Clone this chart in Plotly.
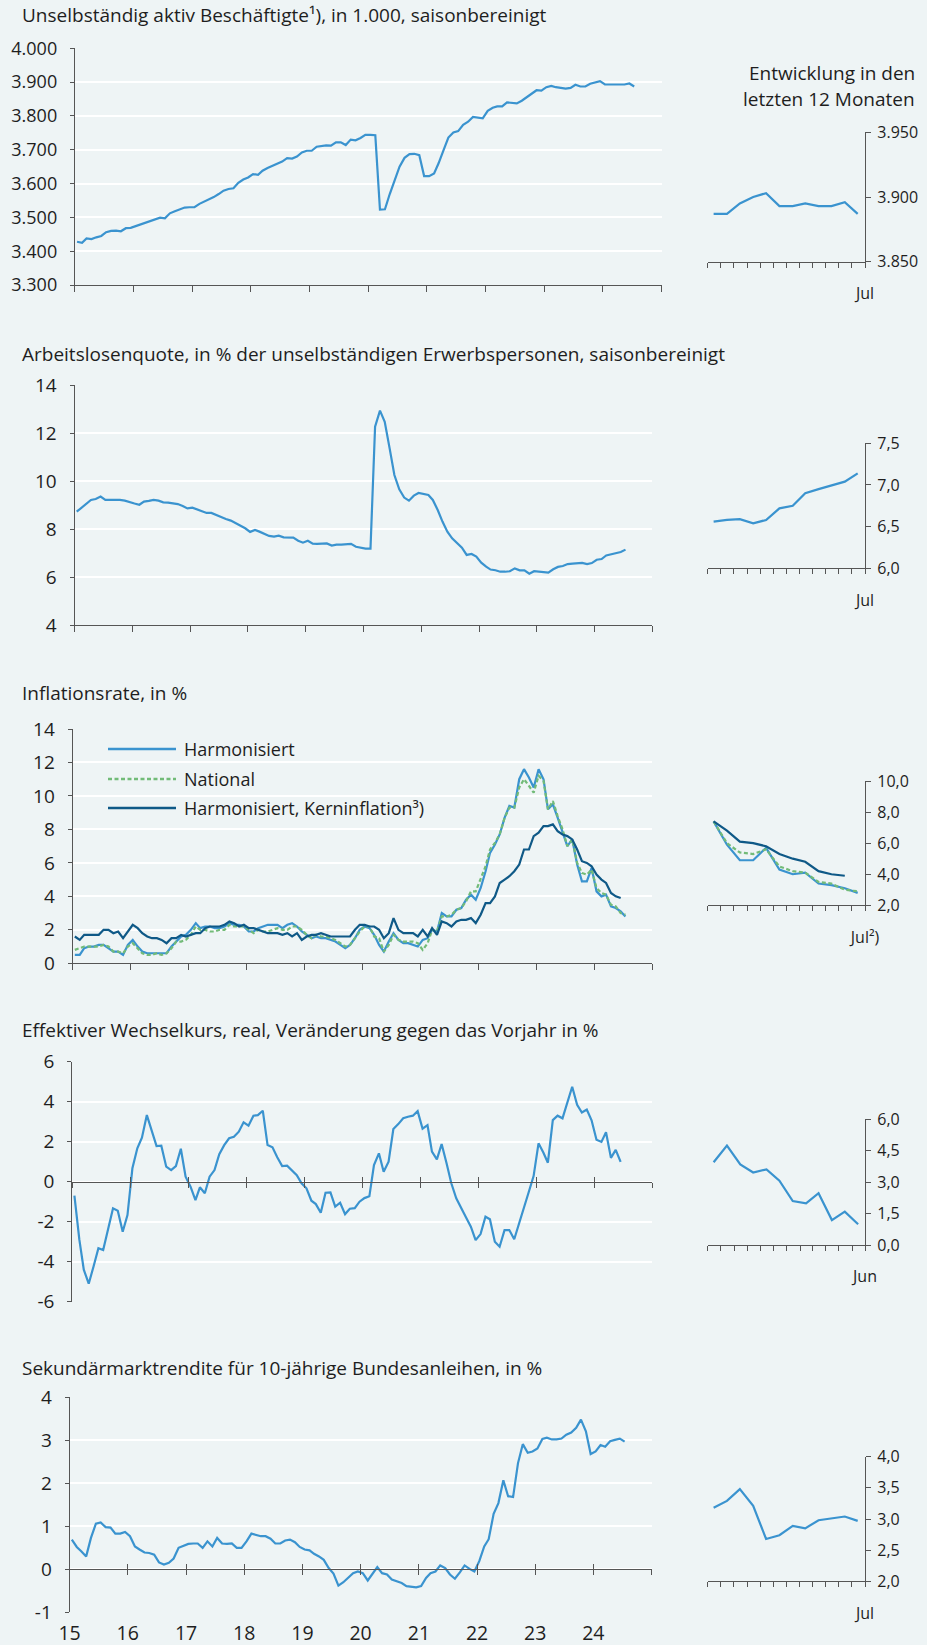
import pandas as pd
import plotly.graph_objects as go

# ---------------- data ----------------
MONTH_START = "2015-01-01"
MONTH_END = "2024-07-01"

beschaeftigte = [
    3428, 3425, 3438, 3436, 3441, 3445, 3456, 3460, 3461, 3459, 3468, 3469,
    3474, 3479, 3483, 3487, 3494, 3499, 3497, 3512, 3518, 3524, 3529, 3530,
    3530, 3540, 3546, 3552, 3560, 3569, 3579, 3584, 3586, 3602, 3612, 3618,
    3628, 3626, 3638, 3646, 3653, 3658, 3665, 3675, 3674, 3680, 3692, 3697,
    3697, 3709, 3711, 3713, 3712, 3722, 3722, 3714, 3730, 3728, 3735, 3744,
    3744, 3743, 3523, 3524, 3569, 3610, 3650, 3676, 3687, 3688, 3684, 3622,
    3622, 3630, 3660, 3699, 3736, 3751, 3755, 3774, 3783, 3797, 3796, 3793,
    3815, 3824, 3828, 3828, 3840, 3839, 3837, 3845, 3855, 3866, 3876, 3875,
    3885, 3889, 3885, 3883, 3881, 3883, 3892, 3887, 3887, 3895, 3900, 3903,
    3893, 3893, 3895, 3893, 3893, 3896, 3887,
]

arbeitslosenquote = [
    8.72, 8.90, 9.05, 9.21, 9.25, 9.35, 9.21, 9.21, 9.22, 9.21, 9.18, 9.11,
    9.06, 9.01, 9.14, 9.17, 9.21, 9.18, 9.11, 9.10, 9.08, 9.04, 8.96, 8.86,
    8.89, 8.82, 8.75, 8.67, 8.67, 8.58, 8.51, 8.42, 8.35, 8.24, 8.11, 8.03,
    7.88, 7.96, 7.89, 7.81, 7.71, 7.68, 7.72, 7.65, 7.64, 7.64, 7.51, 7.43,
    7.51, 7.39, 7.38, 7.40, 7.40, 7.31, 7.35, 7.35, 7.35, 7.38, 7.26, 7.21,
    7.18, 7.18, 12.26, 12.93, 12.47, 11.36, 10.25, 9.65, 9.31, 9.18, 9.39, 9.50,
    9.47, 9.42, 9.21, 8.79, 8.31, 7.89, 7.61, 7.40, 7.22, 6.92, 6.96, 6.85,
    6.60, 6.43, 6.31, 6.28, 6.22, 6.22, 6.24, 6.36, 6.28, 6.28, 6.14, 6.24,
    6.22, 6.21, 6.18, 6.32, 6.42, 6.46, 6.54, 6.56, 6.58, 6.59, 6.54, 6.58,
    6.72, 6.75, 6.90, 6.95, 6.99, 7.04, 7.14,
]

inflation_harmonisiert = [
    0.5, 0.5, 0.9, 1.0, 1.0, 1.1, 1.1, 0.9, 0.7, 0.7, 0.5, 1.1,
    1.4, 1.0, 0.7, 0.6, 0.6, 0.6, 0.6, 0.6, 1.0, 1.3, 1.6, 1.7,
    2.0, 2.4, 2.1, 2.2, 2.2, 2.1, 2.1, 2.2, 2.4, 2.3, 2.3, 2.2,
    1.9, 1.9, 2.1, 2.2, 2.3, 2.3, 2.3, 2.1, 2.3, 2.4, 2.2, 1.9,
    1.7, 1.5, 1.6, 1.5, 1.5, 1.4, 1.3, 1.1, 0.9, 1.1, 1.5, 2.0,
    2.2, 2.1, 1.7, 1.1, 0.7, 1.3, 1.8, 1.4, 1.2, 1.2, 1.1, 1.0,
    1.4, 1.5, 2.0, 1.9, 3.0, 2.8, 2.8, 3.2, 3.3, 3.8, 4.1, 3.8,
    4.5, 5.5, 6.6, 7.1, 7.7, 8.7, 9.4, 9.3, 11.0, 11.6, 11.1, 10.5,
    11.6, 11.0, 9.2, 9.5, 8.7, 7.8, 7.0, 7.4, 5.9, 4.9, 4.9, 5.7,
    4.3, 4.0, 4.1, 3.4, 3.3, 3.1, 2.8,
]

inflation_national = [
    0.8, 0.9, 1.0, 1.0, 1.0, 1.0, 1.1, 1.0, 0.7, 0.7, 0.6, 1.0,
    1.2, 0.9, 0.6, 0.5, 0.5, 0.6, 0.5, 0.6, 0.9, 1.3, 1.3, 1.4,
    1.7, 2.2, 2.0, 2.0, 1.9, 1.9, 2.0, 2.0, 2.3, 2.2, 2.2, 2.2,
    2.0, 1.8, 2.0, 1.9, 1.9, 2.0, 2.1, 2.0, 2.0, 2.2, 2.2, 2.0,
    1.7, 1.5, 1.7, 1.6, 1.6, 1.5, 1.4, 1.2, 1.0, 1.1, 1.5, 1.9,
    2.2, 2.2, 1.6, 1.5, 0.7, 1.1, 1.7, 1.4, 1.3, 1.3, 1.3, 1.2,
    0.8, 1.2, 2.0, 1.9, 2.8, 2.8, 2.9, 3.2, 3.3, 3.7, 4.3, 4.3,
    5.0, 5.8, 6.8, 7.2, 7.7, 8.7, 9.3, 9.3, 10.5, 11.0, 10.6, 10.2,
    11.2, 10.9, 9.2, 9.7, 8.8, 8.0, 7.0, 7.4, 6.0, 5.4, 5.3, 5.6,
    4.5, 4.2, 4.1, 3.5, 3.4, 3.0, 2.9,
]

inflation_kern = [
    1.6, 1.4, 1.7, 1.7, 1.7, 1.7, 2.0, 2.0, 1.8, 1.9, 1.5, 1.9,
    2.3, 2.1, 1.8, 1.6, 1.5, 1.5, 1.4, 1.2, 1.5, 1.5, 1.7, 1.6,
    1.7, 1.8, 1.8, 2.1, 2.2, 2.2, 2.2, 2.3, 2.5, 2.4, 2.2, 2.3,
    2.1, 2.1, 2.0, 1.9, 1.8, 1.8, 1.8, 1.7, 1.8, 1.6, 1.8, 1.4,
    1.6, 1.7, 1.7, 1.8, 1.7, 1.6, 1.6, 1.6, 1.6, 1.6, 2.0, 2.3,
    2.3, 2.2, 2.2, 2.0, 1.5, 1.8, 2.7, 2.0, 1.8, 1.8, 1.8, 1.6,
    2.0, 1.6, 2.1, 1.7, 2.5, 2.4, 2.2, 2.5, 2.6, 2.6, 2.7, 2.4,
    2.9, 3.6, 3.6, 4.0, 4.8, 5.0, 5.2, 5.5, 5.9, 6.8, 6.8, 7.6,
    7.8, 8.2, 8.2, 8.3, 7.9, 7.7, 7.6, 7.4, 6.8, 6.1, 6.0, 5.8,
    5.3, 5.0, 4.8, 4.2, 4.0, 3.9,
]

wechselkurs = [
    -0.7, -2.9, -4.4, -5.1, -4.25, -3.33, -3.42, -2.42, -1.33, -1.45, -2.5, -1.67,
    0.67, 1.67, 2.2, 3.33, 2.58, 1.78, 1.8, 0.75, 0.58, 0.78, 1.65, 0.25,
    -0.25, -0.92, -0.28, -0.58, 0.25, 0.58, 1.38, 1.83, 2.17, 2.25, 2.5, 2.97,
    2.8, 3.3, 3.33, 3.55, 1.83, 1.72, 1.22, 0.78, 0.8, 0.55, 0.33, -0.08,
    -0.33, -0.95, -1.12, -1.55, -0.55, -0.53, -1.25, -1.05, -1.62, -1.35, -1.32, -1.0,
    -0.82, -0.73, 0.83, 1.42, 0.5, 1.0, 2.63, 2.88, 3.17, 3.25, 3.3, 3.53,
    2.65, 2.83, 1.5, 1.12, 1.88, 0.92, -0.08, -0.83, -1.28, -1.78, -2.25, -2.92,
    -2.62, -1.75, -1.88, -3.0, -3.25, -2.42, -2.42, -2.88, -2.08, -1.25, -0.5, 0.28,
    1.92, 1.45, 0.95, 3.08, 3.3, 3.17, 3.95, 4.75, 3.85, 3.46, 3.61, 3.07,
    2.10, 1.99, 2.47, 1.19, 1.59, 0.99,
]

rendite = [
    0.69, 0.52, 0.42, 0.30, 0.73, 1.06, 1.09, 0.98, 0.97, 0.83, 0.83, 0.87,
    0.77, 0.53, 0.46, 0.39, 0.38, 0.34, 0.16, 0.11, 0.15, 0.25, 0.50, 0.55,
    0.59, 0.60, 0.60, 0.50, 0.65, 0.53, 0.73, 0.60, 0.59, 0.60, 0.50, 0.50,
    0.65, 0.83, 0.80, 0.77, 0.77, 0.71, 0.60, 0.60, 0.67, 0.69, 0.63, 0.52,
    0.46, 0.44, 0.36, 0.30, 0.22, 0.03, -0.10, -0.38, -0.30, -0.20, -0.09, -0.05,
    -0.09, -0.26, -0.10, 0.05, -0.09, -0.12, -0.24, -0.28, -0.32, -0.39, -0.41, -0.42,
    -0.39, -0.20, -0.09, -0.05, 0.09, 0.03, -0.12, -0.22, -0.07, 0.09, 0.01, -0.05,
    0.19, 0.53, 0.70, 1.29, 1.54, 2.07, 1.70, 1.68, 2.47, 2.91, 2.71, 2.74,
    2.81, 3.03, 3.06, 3.02, 3.02, 3.04, 3.13, 3.18, 3.29, 3.48, 3.21, 2.68,
    2.74, 2.89, 2.85, 2.98, 3.01, 3.04, 2.97,
]

year_labels = ["15", "16", "17", "18", "19", "20", "21", "22", "23", "24", ""]

p1_yticks = [3300, 3400, 3500, 3600, 3700, 3800, 3900, 4000]
p1_ylabels = ["3.300", "3.400", "3.500", "3.600", "3.700", "3.800", "3.900", "4.000"]
p1_inset_ticks = [3850, 3900, 3950]
p1_inset_labels = ["3.850", "3.900", "3.950"]

p2_yticks = [4, 6, 8, 10, 12, 14]
p2_ylabels = ["4", "6", "8", "10", "12", "14"]
p2_inset_ticks = [6.0, 6.5, 7.0, 7.5]
p2_inset_labels = ["6,0", "6,5", "7,0", "7,5"]

p3_yticks = [0, 2, 4, 6, 8, 10, 12, 14]
p3_ylabels = ["0", "2", "4", "6", "8", "10", "12", "14"]
p3_inset_ticks = [2, 4, 6, 8, 10]
p3_inset_labels = ["2,0", "4,0", "6,0", "8,0", "10,0"]

p4_yticks = [-6, -4, -2, 0, 2, 4, 6]
p4_ylabels = ["-6", "-4", "-2", "0", "2", "4", "6"]
p4_inset_ticks = [0, 1.5, 3, 4.5, 6]
p4_inset_labels = ["0,0", "1,5", "3,0", "4,5", "6,0"]

p5_yticks = [-1, 0, 1, 2, 3, 4]
p5_ylabels = ["-1", "0", "1", "2", "3", "4"]
p5_inset_ticks = [2, 2.5, 3, 3.5, 4]
p5_inset_labels = ["2,0", "2,5", "3,0", "3,5", "4,0"]

titles = [
    "Unselbständig aktiv Beschäftigte¹), in 1.000, saisonbereinigt",
    "Arbeitslosenquote, in % der unselbständigen Erwerbspersonen, saisonbereinigt",
    "Inflationsrate, in %",
    "Effektiver Wechselkurs, real, Veränderung gegen das Vorjahr in %",
    "Sekundärmarktrendite für 10-jährige Bundesanleihen, in %",
]
legend_names = ["Harmonisiert", "National", "Harmonisiert, Kerninflation³)"]
inset_header = ["Entwicklung in den", "letzten 12 Monaten"]
inset_end_labels = ["Jul", "Jul", "Jul²)", "Jun", "Jul"]

# ---------------- style ----------------
W, H = 927, 1645
BG = "#eef4f5"
BLUE = "#3a93cf"
GREEN = "#72bb78"
DARK = "#0f5987"
AXIS = "#555555"
TXT = "#1e1e1e"
FONT = "Open Sans"
DASH = "4px,2.5px"

months = pd.date_range(MONTH_START, MONTH_END, freq="MS")
xm = months + pd.Timedelta(days=14)
all_bounds = pd.date_range(MONTH_START, "2024-08-01", freq="MS")
year_ticks = pd.date_range("2015-01-01", "2025-01-01", freq="YS")
XRANGE = ["2015-01-01", "2025-01-01"]


def px(p):
    return p / W


def py(p):
    return 1 - p / H


def dx(a, b):
    return [a / W, b / W]


def dy(top, bot):
    return [1 - bot / H, 1 - top / H]


MAIN_X = {1: (74.8, 661.5), 2: (74.5, 652.4), 3: (72.6, 652.4), 4: (72.2, 652.4), 5: (69.6, 651.7)}
MAIN_Y = {1: (48.3, 285), 2: (385, 625), 3: (729, 963.3), 4: (1061.7, 1301.7), 5: (1397.3, 1612.3)}
INS_X = (707.6, 865)
INS_Y = {1: (132.3, 261.7), 2: (443.3, 568.3), 3: (781, 905.3), 4: (1119.3, 1245), 5: (1456.7, 1581.3)}
TITLE_Y = {1: 15, 2: 354, 3: 692.7, 4: 1030, 5: 1368.3}
ZERO_Y = {4: 1181.7, 5: 1569}

fig = go.Figure()
layout = {}


def line(color, width=2.2, dash=None):
    d = dict(color=color, width=width)
    if dash:
        d["dash"] = dash
    return d


def add(x, y, k, inset=False, color=BLUE, width=2.2, dash=None):
    n = 2 * k if inset else 2 * k - 1
    fig.add_trace(go.Scatter(
        x=x, y=y, mode="lines", line=line(color, width, dash),
        xaxis=f"x{n}", yaxis=f"y{n}", showlegend=False, hoverinfo="skip"))


def ax_name(letter, n):
    return f"{letter}axis" if n == 1 else f"{letter}axis{n}"


def main_axes(k, yticks, ylabels, yfont=19, free_zero=False, labels=False):
    n = 2 * k - 1
    yr = [yticks[0], yticks[-1]]
    ya = dict(domain=dy(*MAIN_Y[k]), range=yr, tickvals=yticks, ticktext=ylabels,
              showgrid=True, gridcolor="white", gridwidth=2, zeroline=False,
              showline=True, linecolor=AXIS, linewidth=1, ticks="outside", ticklen=4,
              tickcolor=AXIS, tickfont=dict(size=yfont, color=TXT, family=FONT),
              ticklabelstandoff=9, anchor=f"x{n}", fixedrange=True, automargin=False)
    xa = dict(domain=dx(*MAIN_X[k]), range=XRANGE, type="date", tickvals=year_ticks,
              ticktext=year_labels if labels else [""] * len(year_ticks),
              showgrid=False, zeroline=False, showline=True, linecolor=AXIS, linewidth=1.2,
              ticks="outside", ticklen=6, tickcolor=AXIS, tickwidth=1,
              tickfont=dict(size=19.5, color=TXT, family=FONT), fixedrange=True,
              automargin=False)
    if free_zero:
        xa.update(anchor="free", position=py(ZERO_Y[k]), ticklen=5)
        if labels:
            xa.update(ticklabelstandoff=41)
    else:
        xa.update(anchor=f"y{n}")
    layout[ax_name("x", n)] = xa
    layout[ax_name("y", n)] = ya


def inset_axes(k, yticks, ylabels, first_idx, end_label):
    n = 2 * k
    bounds = all_bounds[first_idx:first_idx + 13]
    layout[ax_name("x", n)] = dict(
        domain=dx(*INS_X), range=[bounds[0], bounds[-1]], type="date", tickvals=bounds,
        ticktext=[""] * 12 + [end_label], showgrid=False, zeroline=False, showline=True,
        linecolor=AXIS, linewidth=1.2, ticks="outside", ticklen=5, tickcolor=AXIS,
        tickfont=dict(size=16, color=TXT, family=FONT), ticklabelstandoff=12,
        anchor=f"y{n}", fixedrange=True, automargin=False)
    layout[ax_name("y", n)] = dict(
        domain=dy(*INS_Y[k]), range=[yticks[0], yticks[-1]], tickvals=yticks, ticktext=ylabels,
        side="right", showgrid=False, zeroline=False, showline=True, linecolor=AXIS,
        linewidth=1.2, ticks="outside", ticklen=5, tickcolor=AXIS,
        tickfont=dict(size=16, color=TXT, family=FONT), ticklabelstandoff=3,
        anchor=f"x{n}", fixedrange=True, automargin=False)


n_all = len(months)

# Panel 1
main_axes(1, p1_yticks, p1_ylabels, yfont=18)
add(xm, beschaeftigte, 1)
inset_axes(1, p1_inset_ticks, p1_inset_labels, n_all - 12, inset_end_labels[0])
add(xm[-12:], beschaeftigte[-12:], 1, inset=True)

# Panel 2
main_axes(2, p2_yticks, p2_ylabels)
add(xm, arbeitslosenquote, 2)
inset_axes(2, p2_inset_ticks, p2_inset_labels, n_all - 12, inset_end_labels[1])
add(xm[-12:], arbeitslosenquote[-12:], 2, inset=True)

# Panel 3
main_axes(3, p3_yticks, p3_ylabels)
nk = len(inflation_kern)
add(xm, inflation_harmonisiert, 3, color=BLUE)
add(xm, inflation_national, 3, color=GREEN, dash=DASH)
add(xm[:nk], inflation_kern, 3, color=DARK)
inset_axes(3, p3_inset_ticks, p3_inset_labels, n_all - 12, inset_end_labels[2])
add(xm[-12:], inflation_harmonisiert[-12:], 3, inset=True, color=BLUE)
add(xm[-12:], inflation_national[-12:], 3, inset=True, color=GREEN, dash=DASH)
add(xm[n_all - 12:nk], inflation_kern[n_all - 12:], 3, inset=True, color=DARK)

# Panel 4
nw = len(wechselkurs)
main_axes(4, p4_yticks, p4_ylabels, free_zero=True)
add(xm[:nw], wechselkurs, 4)
inset_axes(4, p4_inset_ticks, p4_inset_labels, nw - 12, inset_end_labels[3])
add(xm[nw - 12:nw], wechselkurs[-12:], 4, inset=True)

# Panel 5
main_axes(5, p5_yticks, p5_ylabels, free_zero=True, labels=True)
add(xm, rendite, 5)
inset_axes(5, p5_inset_ticks, p5_inset_labels, n_all - 12, inset_end_labels[4])
add(xm[-12:], rendite[-12:], 5, inset=True)

# upward halves of the zero-line ticks (overlay axes carrying an invisible copy)
for k, ov, series, xs in [(4, 11, wechselkurs, xm[:nw]), (5, 12, rendite, xm)]:
    base = 2 * k - 1
    layout[ax_name("x", ov)] = dict(
        overlaying=f"x{base}", anchor="free", position=py(ZERO_Y[k]), range=XRANGE,
        type="date", tickvals=year_ticks, ticktext=[""] * len(year_ticks), showgrid=False,
        zeroline=False, showline=False, ticks="inside", ticklen=5, tickcolor=AXIS,
        fixedrange=True, automargin=False)
    fig.add_trace(go.Scatter(x=xs, y=series, mode="lines", line=dict(width=0),
                             opacity=0, xaxis=f"x{ov}", yaxis=f"y{base}",
                             showlegend=False, hoverinfo="skip"))

annotations = []
for k in range(1, 6):
    annotations.append(dict(text=titles[k - 1], xref="paper", yref="paper", x=px(19.5),
                            y=py(TITLE_Y[k]), xanchor="left", yanchor="middle",
                            showarrow=False, font=dict(size=19, color=TXT, family=FONT)))
annotations.append(dict(text=inset_header[0], xref="paper", yref="paper", x=px(917),
                        y=py(72.7), xanchor="right", yanchor="middle", showarrow=False,
                        font=dict(size=19, color=TXT, family=FONT)))
annotations.append(dict(text=inset_header[1], xref="paper", yref="paper", x=px(917),
                        y=py(99.3), xanchor="right", yanchor="middle", showarrow=False,
                        font=dict(size=19, color=TXT, family=FONT)))

shapes = []
leg_y = [749, 779, 808]
leg_style = [(BLUE, None), (GREEN, DASH), (DARK, None)]
for name, yy, (c, d) in zip(legend_names, leg_y, leg_style):
    ln = dict(color=c, width=2.4)
    if d:
        ln["dash"] = d
    shapes.append(dict(type="line", xref="paper", yref="paper", x0=px(108), x1=px(176),
                       y0=py(yy), y1=py(yy), line=ln))
    annotations.append(dict(text=name, xref="paper", yref="paper", x=px(182), y=py(yy),
                            xanchor="left", yanchor="middle", showarrow=False,
                            font=dict(size=18, color=TXT, family=FONT)))

fig.update_layout(
    width=W, height=H, autosize=False,
    margin=dict(l=0, r=0, t=0, b=0, pad=0, autoexpand=False),
    paper_bgcolor=BG, plot_bgcolor=BG,
    showlegend=False,
    font=dict(family=FONT, color=TXT),
    annotations=annotations, shapes=shapes,
    **layout,
)

fig.write_html(
    "out.html",
    config={"displayModeBar": False},
    post_script="document.body.style.margin='0px'; document.body.style.background='%s';" % BG,
)
